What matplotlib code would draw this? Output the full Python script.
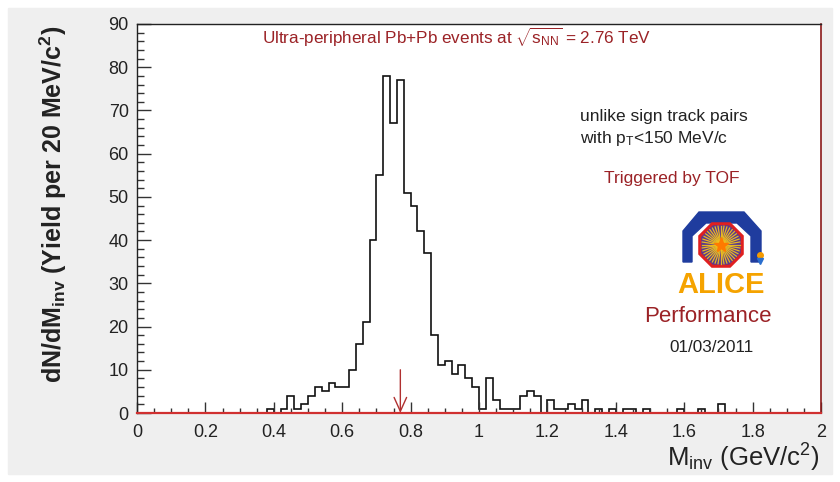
import matplotlib
matplotlib.use("Agg")
import matplotlib.pyplot as plt
from matplotlib.patches import Polygon, Rectangle
from matplotlib.ticker import MultipleLocator, FuncFormatter
import numpy as np

plt.rcParams['font.family'] = ['Liberation Sans', 'DejaVu Sans']
plt.rcParams['mathtext.fontset'] = 'custom'
plt.rcParams['mathtext.rm'] = 'Liberation Sans'
plt.rcParams['mathtext.it'] = 'Liberation Sans:italic'
plt.rcParams['mathtext.bf'] = 'Liberation Sans:bold'

# invariant mass histogram, 20 MeV bins from 0 to 2 GeV
bin_width = 0.02
m_min, m_max = 0.0, 2.0
counts = [
    0, 0, 0, 0, 0, 0, 0, 0, 0, 0,       # 0.00 - 0.18
    0, 0, 0, 0, 0, 0, 0, 0, 0, 1,       # 0.20 - 0.38
    0, 1, 4, 1, 2, 4, 6, 5, 7, 6,       # 0.40 - 0.58
    6, 10, 16, 21, 40, 55, 78, 67, 77, 51,   # 0.60 - 0.78
    48, 42, 37, 18, 11, 12, 9, 11, 8, 6,     # 0.80 - 0.98
    1, 8, 3, 1, 1, 1, 4, 5, 4, 0,       # 1.00 - 1.18
    3, 1, 1, 2, 1, 3, 0, 1, 0, 1,       # 1.20 - 1.38
    0, 1, 1, 0, 1, 0, 0, 0, 0, 1,       # 1.40 - 1.58
    0, 0, 1, 0, 0, 2, 0, 0, 0, 0,       # 1.60 - 1.78
    0, 0, 0, 0, 0, 0, 0, 0, 0, 0,       # 1.80 - 1.98
]
rho_mass = 0.77
arrow_top = 10

title = r'Ultra-peripheral Pb+Pb events at $\sqrt{\mathregular{s_{NN}}}$ = 2.76 TeV'
cut_lines = ['unlike sign track pairs', r'with p$_\mathregular{T}$<150 MeV/c']
trigger = 'Triggered by TOF'
perf = 'Performance'
date = '01/03/2011'

dark_red = '#9b2226'
edges = np.linspace(m_min, m_max, len(counts) + 1)

fig = plt.figure(figsize=(8.4, 4.82), dpi=100)
fig.patch.set_facecolor('white')
fig.patches.append(Rectangle((8 / 840, 8 / 482), 824 / 840, 466 / 482,
                             transform=fig.transFigure, color='#efefef', zorder=-10))

ax = fig.add_axes([137 / 840, 1 - 413 / 482, 684 / 840, 389 / 482])
ax.stairs(counts, edges, color='#111111', lw=1.2)
ax.set_xlim(m_min, m_max)
ax.set_ylim(0, 90)

ax.annotate('', xy=(rho_mass, 0), xytext=(rho_mass, arrow_top),
            arrowprops=dict(arrowstyle='->,head_length=1.0,head_width=0.45',
                            color='#b03030', lw=1.0, shrinkA=0, shrinkB=0))

# ROOT-like frame
for s in ['top', 'left']:
    ax.spines[s].set_color('#222222')
    ax.spines[s].set_linewidth(1.0)
ax.spines['bottom'].set_color('#d03030')
ax.spines['bottom'].set_linewidth(1.6)
ax.spines['right'].set_color('#8b1a1a')
ax.spines['right'].set_linewidth(1.2)

ax.xaxis.set_major_locator(MultipleLocator(0.2))
ax.xaxis.set_minor_locator(MultipleLocator(0.05))
ax.yaxis.set_major_locator(MultipleLocator(10))
ax.yaxis.set_minor_locator(MultipleLocator(2))
ax.xaxis.set_major_formatter(FuncFormatter(lambda v, p: f'{v:g}'))
ax.tick_params(axis='x', which='major', direction='in', length=8, width=1, pad=8,
               labelsize=13, colors='#333333')
ax.tick_params(axis='x', which='minor', direction='in', length=3.5, width=1, colors='#333333')
ax.tick_params(axis='y', which='major', direction='in', length=10, width=1, pad=6,
               labelsize=13, colors='#333333')
ax.tick_params(axis='y', which='minor', direction='in', length=5, width=1, colors='#333333')
ax.tick_params(labelcolor='#222222')

ax.set_ylabel(r'dN/dM$_\mathbf{inv}$ (Yield per 20 MeV/c$^\mathbf{2}$)',
              fontsize=18, fontweight='bold', color='#222222', va='center')
ax.yaxis.set_label_coords((53 - 137) / 684, (413 - 204) / 389)
ax.set_xlabel(r'M$_\mathregular{inv}$ (GeV/c$^\mathregular{2}$)', fontsize=18.5,
              color='#222222', va='center', ha='right')
ax.xaxis.set_label_coords((820 - 137) / 684, (413 - 458) / 389)

# annotations, placed in figure pixels
def fx(px):
    return px / 840

def fy(py):
    return 1 - py / 482

fig.text(fx(457), fy(37), title, fontsize=12.3, color=dark_red, ha='center', va='center')
fig.text(fx(580), fy(116), cut_lines[0], fontsize=12.5, color='#222222', ha='left', va='center')
fig.text(fx(580), fy(138), cut_lines[1], fontsize=12.5, color='#222222', ha='left', va='center')
fig.text(fx(672), fy(178), trigger, fontsize=12.5, color=dark_red, ha='center', va='center')
fig.text(fx(708), fy(317), perf, fontsize=16, color=dark_red, ha='center', va='center')
fig.text(fx(711), fy(347), date, fontsize=12.3, color='#222222', ha='center', va='center')

# ALICE logo in a small inset, local pixel units (0..100 x 0..92)
lg = fig.add_axes([fx(672), fy(297), 100 / 840, 92 / 482])
lg.set_xlim(0, 100)
lg.set_ylim(0, 92)
lg.axis('off')
outer = [(11, 35), (11, 66), (27, 85), (72, 85), (89, 66), (89, 35),
         (79, 35), (79, 61), (65, 74), (34, 74), (20, 61), (20, 35)]
lg.add_patch(Polygon(outer, closed=True, color='#1f3c9e', zorder=1))
cx, cy, r = 49, 52, 23
ang = np.deg2rad(22.5 + 45 * np.arange(8))
octo = np.column_stack([cx + r * np.cos(ang), cy + r * np.sin(ang)])
lg.add_patch(Polygon(octo, closed=True, facecolor='#5a3a8c', edgecolor='#e02020', lw=2.2, zorder=2))
for a in np.linspace(0, 2 * np.pi, 40, endpoint=False):
    lg.plot([cx, cx + 19 * np.cos(a)], [cy, cy + 19 * np.sin(a)],
            color='#f5c518', lw=0.9, alpha=0.9, zorder=3)
lg.plot(cx, cy, marker='*', color='#ff7a00', markersize=11, zorder=4)
lg.plot(88, 42, marker='o', color='#f59a00', markersize=4, zorder=4)
lg.plot(88, 36, marker='v', color='#2a6fcf', markersize=5, zorder=4)
lg.text(49, 12, 'ALICE', fontsize=21, fontweight='bold', color='#f5a300',
        ha='center', va='center', zorder=5)

fig.savefig('out.png', dpi=100, facecolor=fig.get_facecolor())
